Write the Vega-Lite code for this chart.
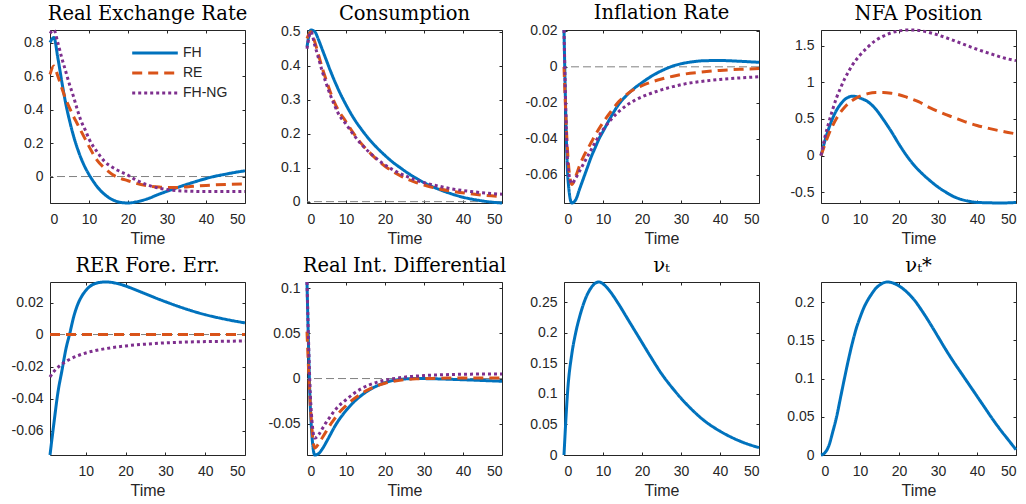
{
  "$schema": "https://vega.github.io/schema/vega-lite/v6.json",
  "background": "white",
  "padding": {"left": 10, "top": 2, "right": 5, "bottom": 5},
  "data": {"values": [
    {"p":"Real Exchange Rate","s":"zero","t":0,"v":0},
    {"p":"Consumption","s":"zero","t":0,"v":0},
    {"p":"Inflation Rate","s":"zero","t":0,"v":0},
    {"p":"RER Fore. Err.","s":"zero","t":1,"v":0},
    {"p":"Real Int. Differential","s":"zero","t":0,"v":0},

    {"p":"Real Exchange Rate","s":"FH","t":0,"v":0.80},
    {"p":"Real Exchange Rate","s":"FH","t":1,"v":0.83},
    {"p":"Real Exchange Rate","s":"FH","t":2,"v":0.71},
    {"p":"Real Exchange Rate","s":"FH","t":3,"v":0.57},
    {"p":"Real Exchange Rate","s":"FH","t":4,"v":0.44},
    {"p":"Real Exchange Rate","s":"FH","t":5,"v":0.335},
    {"p":"Real Exchange Rate","s":"FH","t":6,"v":0.245},
    {"p":"Real Exchange Rate","s":"FH","t":7,"v":0.17},
    {"p":"Real Exchange Rate","s":"FH","t":8,"v":0.107},
    {"p":"Real Exchange Rate","s":"FH","t":9,"v":0.055},
    {"p":"Real Exchange Rate","s":"FH","t":10,"v":0.012},
    {"p":"Real Exchange Rate","s":"FH","t":11,"v":-0.025},
    {"p":"Real Exchange Rate","s":"FH","t":12,"v":-0.058},
    {"p":"Real Exchange Rate","s":"FH","t":14,"v":-0.107},
    {"p":"Real Exchange Rate","s":"FH","t":16,"v":-0.138},
    {"p":"Real Exchange Rate","s":"FH","t":18,"v":-0.154},
    {"p":"Real Exchange Rate","s":"FH","t":20,"v":-0.158},
    {"p":"Real Exchange Rate","s":"FH","t":22,"v":-0.152},
    {"p":"Real Exchange Rate","s":"FH","t":25,"v":-0.133},
    {"p":"Real Exchange Rate","s":"FH","t":28,"v":-0.105},
    {"p":"Real Exchange Rate","s":"FH","t":30,"v":-0.088},
    {"p":"Real Exchange Rate","s":"FH","t":33,"v":-0.063},
    {"p":"Real Exchange Rate","s":"FH","t":36,"v":-0.04},
    {"p":"Real Exchange Rate","s":"FH","t":40,"v":-0.012},
    {"p":"Real Exchange Rate","s":"FH","t":42,"v":0.0},
    {"p":"Real Exchange Rate","s":"FH","t":45,"v":0.014},
    {"p":"Real Exchange Rate","s":"FH","t":48,"v":0.027},
    {"p":"Real Exchange Rate","s":"FH","t":50,"v":0.034},

    {"p":"Real Exchange Rate","s":"RE","t":0,"v":0.61},
    {"p":"Real Exchange Rate","s":"RE","t":1,"v":0.66},
    {"p":"Real Exchange Rate","s":"RE","t":2,"v":0.60},
    {"p":"Real Exchange Rate","s":"RE","t":3,"v":0.53},
    {"p":"Real Exchange Rate","s":"RE","t":4,"v":0.465},
    {"p":"Real Exchange Rate","s":"RE","t":5,"v":0.41},
    {"p":"Real Exchange Rate","s":"RE","t":6,"v":0.36},
    {"p":"Real Exchange Rate","s":"RE","t":7,"v":0.315},
    {"p":"Real Exchange Rate","s":"RE","t":8,"v":0.27},
    {"p":"Real Exchange Rate","s":"RE","t":9,"v":0.225},
    {"p":"Real Exchange Rate","s":"RE","t":10,"v":0.18},
    {"p":"Real Exchange Rate","s":"RE","t":12,"v":0.10},
    {"p":"Real Exchange Rate","s":"RE","t":14,"v":0.05},
    {"p":"Real Exchange Rate","s":"RE","t":16,"v":0.012},
    {"p":"Real Exchange Rate","s":"RE","t":18,"v":-0.01},
    {"p":"Real Exchange Rate","s":"RE","t":20,"v":-0.025},
    {"p":"Real Exchange Rate","s":"RE","t":22,"v":-0.04},
    {"p":"Real Exchange Rate","s":"RE","t":25,"v":-0.055},
    {"p":"Real Exchange Rate","s":"RE","t":28,"v":-0.063},
    {"p":"Real Exchange Rate","s":"RE","t":30,"v":-0.066},
    {"p":"Real Exchange Rate","s":"RE","t":33,"v":-0.065},
    {"p":"Real Exchange Rate","s":"RE","t":36,"v":-0.06},
    {"p":"Real Exchange Rate","s":"RE","t":40,"v":-0.053},
    {"p":"Real Exchange Rate","s":"RE","t":45,"v":-0.047},
    {"p":"Real Exchange Rate","s":"RE","t":50,"v":-0.044},

    {"p":"Real Exchange Rate","s":"FH-NG","t":0,"v":0.855},
    {"p":"Real Exchange Rate","s":"FH-NG","t":1,"v":0.875},
    {"p":"Real Exchange Rate","s":"FH-NG","t":2,"v":0.80},
    {"p":"Real Exchange Rate","s":"FH-NG","t":3,"v":0.71},
    {"p":"Real Exchange Rate","s":"FH-NG","t":4,"v":0.63},
    {"p":"Real Exchange Rate","s":"FH-NG","t":5,"v":0.55},
    {"p":"Real Exchange Rate","s":"FH-NG","t":6,"v":0.48},
    {"p":"Real Exchange Rate","s":"FH-NG","t":7,"v":0.40},
    {"p":"Real Exchange Rate","s":"FH-NG","t":8,"v":0.33},
    {"p":"Real Exchange Rate","s":"FH-NG","t":9,"v":0.28},
    {"p":"Real Exchange Rate","s":"FH-NG","t":10,"v":0.225},
    {"p":"Real Exchange Rate","s":"FH-NG","t":12,"v":0.15},
    {"p":"Real Exchange Rate","s":"FH-NG","t":14,"v":0.09},
    {"p":"Real Exchange Rate","s":"FH-NG","t":16,"v":0.055},
    {"p":"Real Exchange Rate","s":"FH-NG","t":18,"v":0.03},
    {"p":"Real Exchange Rate","s":"FH-NG","t":20,"v":0.008},
    {"p":"Real Exchange Rate","s":"FH-NG","t":22,"v":-0.02},
    {"p":"Real Exchange Rate","s":"FH-NG","t":25,"v":-0.05},
    {"p":"Real Exchange Rate","s":"FH-NG","t":28,"v":-0.07},
    {"p":"Real Exchange Rate","s":"FH-NG","t":30,"v":-0.078},
    {"p":"Real Exchange Rate","s":"FH-NG","t":33,"v":-0.085},
    {"p":"Real Exchange Rate","s":"FH-NG","t":36,"v":-0.088},
    {"p":"Real Exchange Rate","s":"FH-NG","t":40,"v":-0.09},
    {"p":"Real Exchange Rate","s":"FH-NG","t":45,"v":-0.09},
    {"p":"Real Exchange Rate","s":"FH-NG","t":50,"v":-0.09},

    {"p":"Consumption","s":"FH","t":0,"v":0.455},
    {"p":"Consumption","s":"FH","t":1,"v":0.505},
    {"p":"Consumption","s":"FH","t":2,"v":0.50},
    {"p":"Consumption","s":"FH","t":3,"v":0.475},
    {"p":"Consumption","s":"FH","t":4,"v":0.445},
    {"p":"Consumption","s":"FH","t":5,"v":0.415},
    {"p":"Consumption","s":"FH","t":6,"v":0.385},
    {"p":"Consumption","s":"FH","t":7,"v":0.357},
    {"p":"Consumption","s":"FH","t":8,"v":0.331},
    {"p":"Consumption","s":"FH","t":10,"v":0.285},
    {"p":"Consumption","s":"FH","t":12,"v":0.245},
    {"p":"Consumption","s":"FH","t":14,"v":0.212},
    {"p":"Consumption","s":"FH","t":16,"v":0.183},
    {"p":"Consumption","s":"FH","t":18,"v":0.158},
    {"p":"Consumption","s":"FH","t":20,"v":0.136},
    {"p":"Consumption","s":"FH","t":22,"v":0.116},
    {"p":"Consumption","s":"FH","t":24,"v":0.099},
    {"p":"Consumption","s":"FH","t":26,"v":0.083},
    {"p":"Consumption","s":"FH","t":28,"v":0.069},
    {"p":"Consumption","s":"FH","t":30,"v":0.056},
    {"p":"Consumption","s":"FH","t":33,"v":0.040},
    {"p":"Consumption","s":"FH","t":36,"v":0.027},
    {"p":"Consumption","s":"FH","t":40,"v":0.013},
    {"p":"Consumption","s":"FH","t":44,"v":0.004},
    {"p":"Consumption","s":"FH","t":47,"v":-0.001},
    {"p":"Consumption","s":"FH","t":50,"v":-0.004},

    {"p":"Consumption","s":"RE","t":0,"v":0.48},
    {"p":"Consumption","s":"RE","t":1,"v":0.50},
    {"p":"Consumption","s":"RE","t":2,"v":0.47},
    {"p":"Consumption","s":"RE","t":3,"v":0.43},
    {"p":"Consumption","s":"RE","t":4,"v":0.39},
    {"p":"Consumption","s":"RE","t":5,"v":0.355},
    {"p":"Consumption","s":"RE","t":6,"v":0.322},
    {"p":"Consumption","s":"RE","t":7,"v":0.293},
    {"p":"Consumption","s":"RE","t":8,"v":0.27},
    {"p":"Consumption","s":"RE","t":10,"v":0.235},
    {"p":"Consumption","s":"RE","t":12,"v":0.20},
    {"p":"Consumption","s":"RE","t":14,"v":0.17},
    {"p":"Consumption","s":"RE","t":16,"v":0.145},
    {"p":"Consumption","s":"RE","t":18,"v":0.123},
    {"p":"Consumption","s":"RE","t":20,"v":0.104},
    {"p":"Consumption","s":"RE","t":22,"v":0.089},
    {"p":"Consumption","s":"RE","t":24,"v":0.076},
    {"p":"Consumption","s":"RE","t":26,"v":0.065},
    {"p":"Consumption","s":"RE","t":28,"v":0.056},
    {"p":"Consumption","s":"RE","t":30,"v":0.049},
    {"p":"Consumption","s":"RE","t":34,"v":0.037},
    {"p":"Consumption","s":"RE","t":38,"v":0.029},
    {"p":"Consumption","s":"RE","t":42,"v":0.023},
    {"p":"Consumption","s":"RE","t":46,"v":0.018},
    {"p":"Consumption","s":"RE","t":50,"v":0.015},

    {"p":"Consumption","s":"FH-NG","t":0,"v":0.45},
    {"p":"Consumption","s":"FH-NG","t":1,"v":0.50},
    {"p":"Consumption","s":"FH-NG","t":2,"v":0.46},
    {"p":"Consumption","s":"FH-NG","t":3,"v":0.42},
    {"p":"Consumption","s":"FH-NG","t":4,"v":0.38},
    {"p":"Consumption","s":"FH-NG","t":5,"v":0.345},
    {"p":"Consumption","s":"FH-NG","t":6,"v":0.313},
    {"p":"Consumption","s":"FH-NG","t":7,"v":0.285},
    {"p":"Consumption","s":"FH-NG","t":8,"v":0.26},
    {"p":"Consumption","s":"FH-NG","t":10,"v":0.228},
    {"p":"Consumption","s":"FH-NG","t":12,"v":0.196},
    {"p":"Consumption","s":"FH-NG","t":14,"v":0.168},
    {"p":"Consumption","s":"FH-NG","t":16,"v":0.145},
    {"p":"Consumption","s":"FH-NG","t":18,"v":0.125},
    {"p":"Consumption","s":"FH-NG","t":20,"v":0.108},
    {"p":"Consumption","s":"FH-NG","t":22,"v":0.094},
    {"p":"Consumption","s":"FH-NG","t":24,"v":0.082},
    {"p":"Consumption","s":"FH-NG","t":26,"v":0.072},
    {"p":"Consumption","s":"FH-NG","t":28,"v":0.063},
    {"p":"Consumption","s":"FH-NG","t":30,"v":0.056},
    {"p":"Consumption","s":"FH-NG","t":34,"v":0.045},
    {"p":"Consumption","s":"FH-NG","t":38,"v":0.036},
    {"p":"Consumption","s":"FH-NG","t":42,"v":0.030},
    {"p":"Consumption","s":"FH-NG","t":46,"v":0.025},
    {"p":"Consumption","s":"FH-NG","t":50,"v":0.022},

    {"p":"Inflation Rate","s":"FH","t":0,"v":0.0205},
    {"p":"Inflation Rate","s":"FH","t":1,"v":-0.062},
    {"p":"Inflation Rate","s":"FH","t":2,"v":-0.0758},
    {"p":"Inflation Rate","s":"FH","t":3,"v":-0.074},
    {"p":"Inflation Rate","s":"FH","t":4,"v":-0.068},
    {"p":"Inflation Rate","s":"FH","t":5,"v":-0.062},
    {"p":"Inflation Rate","s":"FH","t":6,"v":-0.056},
    {"p":"Inflation Rate","s":"FH","t":7,"v":-0.050},
    {"p":"Inflation Rate","s":"FH","t":8,"v":-0.045},
    {"p":"Inflation Rate","s":"FH","t":9,"v":-0.040},
    {"p":"Inflation Rate","s":"FH","t":10,"v":-0.036},
    {"p":"Inflation Rate","s":"FH","t":12,"v":-0.028},
    {"p":"Inflation Rate","s":"FH","t":14,"v":-0.021},
    {"p":"Inflation Rate","s":"FH","t":16,"v":-0.016},
    {"p":"Inflation Rate","s":"FH","t":18,"v":-0.012},
    {"p":"Inflation Rate","s":"FH","t":20,"v":-0.0088},
    {"p":"Inflation Rate","s":"FH","t":22,"v":-0.0058},
    {"p":"Inflation Rate","s":"FH","t":24,"v":-0.0033},
    {"p":"Inflation Rate","s":"FH","t":26,"v":-0.0012},
    {"p":"Inflation Rate","s":"FH","t":28,"v":0.0005},
    {"p":"Inflation Rate","s":"FH","t":30,"v":0.0017},
    {"p":"Inflation Rate","s":"FH","t":33,"v":0.0028},
    {"p":"Inflation Rate","s":"FH","t":36,"v":0.0034},
    {"p":"Inflation Rate","s":"FH","t":40,"v":0.0035},
    {"p":"Inflation Rate","s":"FH","t":45,"v":0.0031},
    {"p":"Inflation Rate","s":"FH","t":50,"v":0.0025},

    {"p":"Inflation Rate","s":"RE","t":0,"v":0.0},
    {"p":"Inflation Rate","s":"RE","t":1,"v":-0.05},
    {"p":"Inflation Rate","s":"RE","t":2,"v":-0.0655},
    {"p":"Inflation Rate","s":"RE","t":3,"v":-0.061},
    {"p":"Inflation Rate","s":"RE","t":4,"v":-0.055},
    {"p":"Inflation Rate","s":"RE","t":5,"v":-0.050},
    {"p":"Inflation Rate","s":"RE","t":6,"v":-0.046},
    {"p":"Inflation Rate","s":"RE","t":7,"v":-0.042},
    {"p":"Inflation Rate","s":"RE","t":8,"v":-0.038},
    {"p":"Inflation Rate","s":"RE","t":10,"v":-0.031},
    {"p":"Inflation Rate","s":"RE","t":12,"v":-0.025},
    {"p":"Inflation Rate","s":"RE","t":14,"v":-0.0195},
    {"p":"Inflation Rate","s":"RE","t":16,"v":-0.0155},
    {"p":"Inflation Rate","s":"RE","t":18,"v":-0.0125},
    {"p":"Inflation Rate","s":"RE","t":20,"v":-0.0105},
    {"p":"Inflation Rate","s":"RE","t":22,"v":-0.0088},
    {"p":"Inflation Rate","s":"RE","t":25,"v":-0.0068},
    {"p":"Inflation Rate","s":"RE","t":28,"v":-0.0052},
    {"p":"Inflation Rate","s":"RE","t":31,"v":-0.004},
    {"p":"Inflation Rate","s":"RE","t":35,"v":-0.003},
    {"p":"Inflation Rate","s":"RE","t":40,"v":-0.002},
    {"p":"Inflation Rate","s":"RE","t":45,"v":-0.0014},
    {"p":"Inflation Rate","s":"RE","t":50,"v":-0.001},

    {"p":"Inflation Rate","s":"FH-NG","t":0,"v":0.0205},
    {"p":"Inflation Rate","s":"FH-NG","t":1,"v":-0.055},
    {"p":"Inflation Rate","s":"FH-NG","t":2,"v":-0.065},
    {"p":"Inflation Rate","s":"FH-NG","t":3,"v":-0.062},
    {"p":"Inflation Rate","s":"FH-NG","t":4,"v":-0.058},
    {"p":"Inflation Rate","s":"FH-NG","t":5,"v":-0.054},
    {"p":"Inflation Rate","s":"FH-NG","t":6,"v":-0.050},
    {"p":"Inflation Rate","s":"FH-NG","t":7,"v":-0.046},
    {"p":"Inflation Rate","s":"FH-NG","t":8,"v":-0.042},
    {"p":"Inflation Rate","s":"FH-NG","t":10,"v":-0.035},
    {"p":"Inflation Rate","s":"FH-NG","t":12,"v":-0.0295},
    {"p":"Inflation Rate","s":"FH-NG","t":14,"v":-0.025},
    {"p":"Inflation Rate","s":"FH-NG","t":16,"v":-0.0215},
    {"p":"Inflation Rate","s":"FH-NG","t":18,"v":-0.0188},
    {"p":"Inflation Rate","s":"FH-NG","t":20,"v":-0.0167},
    {"p":"Inflation Rate","s":"FH-NG","t":22,"v":-0.015},
    {"p":"Inflation Rate","s":"FH-NG","t":25,"v":-0.0128},
    {"p":"Inflation Rate","s":"FH-NG","t":28,"v":-0.011},
    {"p":"Inflation Rate","s":"FH-NG","t":31,"v":-0.0095},
    {"p":"Inflation Rate","s":"FH-NG","t":35,"v":-0.0082},
    {"p":"Inflation Rate","s":"FH-NG","t":40,"v":-0.007},
    {"p":"Inflation Rate","s":"FH-NG","t":45,"v":-0.0062},
    {"p":"Inflation Rate","s":"FH-NG","t":50,"v":-0.0055},

    {"p":"NFA Position","s":"FH","t":0,"v":0},
    {"p":"NFA Position","s":"FH","t":1,"v":0.2},
    {"p":"NFA Position","s":"FH","t":2,"v":0.37},
    {"p":"NFA Position","s":"FH","t":3,"v":0.51},
    {"p":"NFA Position","s":"FH","t":4,"v":0.62},
    {"p":"NFA Position","s":"FH","t":5,"v":0.70},
    {"p":"NFA Position","s":"FH","t":6,"v":0.76},
    {"p":"NFA Position","s":"FH","t":7,"v":0.795},
    {"p":"NFA Position","s":"FH","t":8,"v":0.81},
    {"p":"NFA Position","s":"FH","t":9,"v":0.805},
    {"p":"NFA Position","s":"FH","t":10,"v":0.785},
    {"p":"NFA Position","s":"FH","t":12,"v":0.735},
    {"p":"NFA Position","s":"FH","t":14,"v":0.635},
    {"p":"NFA Position","s":"FH","t":16,"v":0.49},
    {"p":"NFA Position","s":"FH","t":18,"v":0.33},
    {"p":"NFA Position","s":"FH","t":20,"v":0.155},
    {"p":"NFA Position","s":"FH","t":22,"v":-0.005},
    {"p":"NFA Position","s":"FH","t":24,"v":-0.14},
    {"p":"NFA Position","s":"FH","t":26,"v":-0.25},
    {"p":"NFA Position","s":"FH","t":28,"v":-0.345},
    {"p":"NFA Position","s":"FH","t":30,"v":-0.43},
    {"p":"NFA Position","s":"FH","t":32,"v":-0.50},
    {"p":"NFA Position","s":"FH","t":34,"v":-0.56},
    {"p":"NFA Position","s":"FH","t":36,"v":-0.60},
    {"p":"NFA Position","s":"FH","t":38,"v":-0.625},
    {"p":"NFA Position","s":"FH","t":40,"v":-0.64},
    {"p":"NFA Position","s":"FH","t":43,"v":-0.645},
    {"p":"NFA Position","s":"FH","t":46,"v":-0.648},
    {"p":"NFA Position","s":"FH","t":48,"v":-0.646},
    {"p":"NFA Position","s":"FH","t":50,"v":-0.64},

    {"p":"NFA Position","s":"RE","t":0,"v":0},
    {"p":"NFA Position","s":"RE","t":1,"v":0.15},
    {"p":"NFA Position","s":"RE","t":2,"v":0.29},
    {"p":"NFA Position","s":"RE","t":3,"v":0.41},
    {"p":"NFA Position","s":"RE","t":4,"v":0.51},
    {"p":"NFA Position","s":"RE","t":5,"v":0.59},
    {"p":"NFA Position","s":"RE","t":6,"v":0.655},
    {"p":"NFA Position","s":"RE","t":7,"v":0.71},
    {"p":"NFA Position","s":"RE","t":8,"v":0.75},
    {"p":"NFA Position","s":"RE","t":10,"v":0.81},
    {"p":"NFA Position","s":"RE","t":12,"v":0.845},
    {"p":"NFA Position","s":"RE","t":14,"v":0.86},
    {"p":"NFA Position","s":"RE","t":16,"v":0.86},
    {"p":"NFA Position","s":"RE","t":18,"v":0.85},
    {"p":"NFA Position","s":"RE","t":20,"v":0.83},
    {"p":"NFA Position","s":"RE","t":22,"v":0.795},
    {"p":"NFA Position","s":"RE","t":25,"v":0.735},
    {"p":"NFA Position","s":"RE","t":28,"v":0.65},
    {"p":"NFA Position","s":"RE","t":31,"v":0.58},
    {"p":"NFA Position","s":"RE","t":34,"v":0.52},
    {"p":"NFA Position","s":"RE","t":37,"v":0.46},
    {"p":"NFA Position","s":"RE","t":40,"v":0.41},
    {"p":"NFA Position","s":"RE","t":43,"v":0.37},
    {"p":"NFA Position","s":"RE","t":46,"v":0.335},
    {"p":"NFA Position","s":"RE","t":48,"v":0.315},
    {"p":"NFA Position","s":"RE","t":50,"v":0.295},

    {"p":"NFA Position","s":"FH-NG","t":0,"v":0},
    {"p":"NFA Position","s":"FH-NG","t":1,"v":0.25},
    {"p":"NFA Position","s":"FH-NG","t":2,"v":0.45},
    {"p":"NFA Position","s":"FH-NG","t":3,"v":0.63},
    {"p":"NFA Position","s":"FH-NG","t":4,"v":0.79},
    {"p":"NFA Position","s":"FH-NG","t":5,"v":0.92},
    {"p":"NFA Position","s":"FH-NG","t":6,"v":1.04},
    {"p":"NFA Position","s":"FH-NG","t":7,"v":1.14},
    {"p":"NFA Position","s":"FH-NG","t":8,"v":1.23},
    {"p":"NFA Position","s":"FH-NG","t":10,"v":1.37},
    {"p":"NFA Position","s":"FH-NG","t":12,"v":1.48},
    {"p":"NFA Position","s":"FH-NG","t":14,"v":1.57},
    {"p":"NFA Position","s":"FH-NG","t":16,"v":1.63},
    {"p":"NFA Position","s":"FH-NG","t":18,"v":1.675},
    {"p":"NFA Position","s":"FH-NG","t":20,"v":1.70},
    {"p":"NFA Position","s":"FH-NG","t":22,"v":1.713},
    {"p":"NFA Position","s":"FH-NG","t":24,"v":1.712},
    {"p":"NFA Position","s":"FH-NG","t":26,"v":1.70},
    {"p":"NFA Position","s":"FH-NG","t":28,"v":1.675},
    {"p":"NFA Position","s":"FH-NG","t":30,"v":1.645},
    {"p":"NFA Position","s":"FH-NG","t":33,"v":1.59},
    {"p":"NFA Position","s":"FH-NG","t":36,"v":1.53},
    {"p":"NFA Position","s":"FH-NG","t":40,"v":1.45},
    {"p":"NFA Position","s":"FH-NG","t":44,"v":1.38},
    {"p":"NFA Position","s":"FH-NG","t":47,"v":1.33},
    {"p":"NFA Position","s":"FH-NG","t":50,"v":1.295},

    {"p":"RER Fore. Err.","s":"FH","t":1,"v":-0.0752},
    {"p":"RER Fore. Err.","s":"FH","t":2,"v":-0.055},
    {"p":"RER Fore. Err.","s":"FH","t":3,"v":-0.036},
    {"p":"RER Fore. Err.","s":"FH","t":4,"v":-0.0225},
    {"p":"RER Fore. Err.","s":"FH","t":5,"v":-0.009},
    {"p":"RER Fore. Err.","s":"FH","t":6,"v":0.001},
    {"p":"RER Fore. Err.","s":"FH","t":7,"v":0.0115},
    {"p":"RER Fore. Err.","s":"FH","t":8,"v":0.019},
    {"p":"RER Fore. Err.","s":"FH","t":9,"v":0.024},
    {"p":"RER Fore. Err.","s":"FH","t":10,"v":0.0275},
    {"p":"RER Fore. Err.","s":"FH","t":11,"v":0.030},
    {"p":"RER Fore. Err.","s":"FH","t":12,"v":0.0315},
    {"p":"RER Fore. Err.","s":"FH","t":13,"v":0.0323},
    {"p":"RER Fore. Err.","s":"FH","t":14,"v":0.0327},
    {"p":"RER Fore. Err.","s":"FH","t":15,"v":0.0328},
    {"p":"RER Fore. Err.","s":"FH","t":16,"v":0.0327},
    {"p":"RER Fore. Err.","s":"FH","t":18,"v":0.0318},
    {"p":"RER Fore. Err.","s":"FH","t":20,"v":0.0303},
    {"p":"RER Fore. Err.","s":"FH","t":22,"v":0.0284},
    {"p":"RER Fore. Err.","s":"FH","t":24,"v":0.0264},
    {"p":"RER Fore. Err.","s":"FH","t":26,"v":0.0244},
    {"p":"RER Fore. Err.","s":"FH","t":28,"v":0.0224},
    {"p":"RER Fore. Err.","s":"FH","t":30,"v":0.0205},
    {"p":"RER Fore. Err.","s":"FH","t":33,"v":0.0178},
    {"p":"RER Fore. Err.","s":"FH","t":36,"v":0.0153},
    {"p":"RER Fore. Err.","s":"FH","t":40,"v":0.0124},
    {"p":"RER Fore. Err.","s":"FH","t":44,"v":0.0101},
    {"p":"RER Fore. Err.","s":"FH","t":47,"v":0.0086},
    {"p":"RER Fore. Err.","s":"FH","t":50,"v":0.0073},

    {"p":"RER Fore. Err.","s":"RE","t":1,"v":0},
    {"p":"RER Fore. Err.","s":"RE","t":10,"v":0},
    {"p":"RER Fore. Err.","s":"RE","t":20,"v":0},
    {"p":"RER Fore. Err.","s":"RE","t":30,"v":0},
    {"p":"RER Fore. Err.","s":"RE","t":40,"v":0},
    {"p":"RER Fore. Err.","s":"RE","t":50,"v":0},

    {"p":"RER Fore. Err.","s":"FH-NG","t":1,"v":-0.0265},
    {"p":"RER Fore. Err.","s":"FH-NG","t":2,"v":-0.023},
    {"p":"RER Fore. Err.","s":"FH-NG","t":3,"v":-0.0205},
    {"p":"RER Fore. Err.","s":"FH-NG","t":4,"v":-0.0185},
    {"p":"RER Fore. Err.","s":"FH-NG","t":5,"v":-0.0168},
    {"p":"RER Fore. Err.","s":"FH-NG","t":6,"v":-0.0154},
    {"p":"RER Fore. Err.","s":"FH-NG","t":8,"v":-0.0132},
    {"p":"RER Fore. Err.","s":"FH-NG","t":10,"v":-0.0115},
    {"p":"RER Fore. Err.","s":"FH-NG","t":12,"v":-0.0102},
    {"p":"RER Fore. Err.","s":"FH-NG","t":15,"v":-0.0088},
    {"p":"RER Fore. Err.","s":"FH-NG","t":20,"v":-0.0071},
    {"p":"RER Fore. Err.","s":"FH-NG","t":25,"v":-0.006},
    {"p":"RER Fore. Err.","s":"FH-NG","t":30,"v":-0.0052},
    {"p":"RER Fore. Err.","s":"FH-NG","t":35,"v":-0.0047},
    {"p":"RER Fore. Err.","s":"FH-NG","t":40,"v":-0.0044},
    {"p":"RER Fore. Err.","s":"FH-NG","t":45,"v":-0.0042},
    {"p":"RER Fore. Err.","s":"FH-NG","t":50,"v":-0.004},

    {"p":"Real Int. Differential","s":"FH","t":0,"v":0.107},
    {"p":"Real Int. Differential","s":"FH","t":1,"v":-0.045},
    {"p":"Real Int. Differential","s":"FH","t":2,"v":-0.0847},
    {"p":"Real Int. Differential","s":"FH","t":3,"v":-0.083},
    {"p":"Real Int. Differential","s":"FH","t":4,"v":-0.0775},
    {"p":"Real Int. Differential","s":"FH","t":5,"v":-0.070},
    {"p":"Real Int. Differential","s":"FH","t":6,"v":-0.062},
    {"p":"Real Int. Differential","s":"FH","t":7,"v":-0.054},
    {"p":"Real Int. Differential","s":"FH","t":8,"v":-0.047},
    {"p":"Real Int. Differential","s":"FH","t":9,"v":-0.041},
    {"p":"Real Int. Differential","s":"FH","t":10,"v":-0.0355},
    {"p":"Real Int. Differential","s":"FH","t":12,"v":-0.026},
    {"p":"Real Int. Differential","s":"FH","t":14,"v":-0.0185},
    {"p":"Real Int. Differential","s":"FH","t":16,"v":-0.0125},
    {"p":"Real Int. Differential","s":"FH","t":18,"v":-0.008},
    {"p":"Real Int. Differential","s":"FH","t":20,"v":-0.0045},
    {"p":"Real Int. Differential","s":"FH","t":22,"v":-0.0022},
    {"p":"Real Int. Differential","s":"FH","t":24,"v":-0.0009},
    {"p":"Real Int. Differential","s":"FH","t":26,"v":-0.0002},
    {"p":"Real Int. Differential","s":"FH","t":28,"v":0.0},
    {"p":"Real Int. Differential","s":"FH","t":31,"v":-0.0001},
    {"p":"Real Int. Differential","s":"FH","t":34,"v":-0.0004},
    {"p":"Real Int. Differential","s":"FH","t":38,"v":-0.001},
    {"p":"Real Int. Differential","s":"FH","t":42,"v":-0.0016},
    {"p":"Real Int. Differential","s":"FH","t":46,"v":-0.0023},
    {"p":"Real Int. Differential","s":"FH","t":50,"v":-0.003},

    {"p":"Real Int. Differential","s":"RE","t":0,"v":0.052},
    {"p":"Real Int. Differential","s":"RE","t":1,"v":-0.04},
    {"p":"Real Int. Differential","s":"RE","t":2,"v":-0.077},
    {"p":"Real Int. Differential","s":"RE","t":3,"v":-0.072},
    {"p":"Real Int. Differential","s":"RE","t":4,"v":-0.065},
    {"p":"Real Int. Differential","s":"RE","t":5,"v":-0.058},
    {"p":"Real Int. Differential","s":"RE","t":6,"v":-0.051},
    {"p":"Real Int. Differential","s":"RE","t":7,"v":-0.045},
    {"p":"Real Int. Differential","s":"RE","t":8,"v":-0.039},
    {"p":"Real Int. Differential","s":"RE","t":10,"v":-0.030},
    {"p":"Real Int. Differential","s":"RE","t":12,"v":-0.0225},
    {"p":"Real Int. Differential","s":"RE","t":14,"v":-0.0165},
    {"p":"Real Int. Differential","s":"RE","t":16,"v":-0.0118},
    {"p":"Real Int. Differential","s":"RE","t":18,"v":-0.008},
    {"p":"Real Int. Differential","s":"RE","t":20,"v":-0.0052},
    {"p":"Real Int. Differential","s":"RE","t":22,"v":-0.0032},
    {"p":"Real Int. Differential","s":"RE","t":25,"v":-0.0013},
    {"p":"Real Int. Differential","s":"RE","t":28,"v":-0.0003},
    {"p":"Real Int. Differential","s":"RE","t":32,"v":0.0002},
    {"p":"Real Int. Differential","s":"RE","t":36,"v":0.0005},
    {"p":"Real Int. Differential","s":"RE","t":40,"v":0.0006},
    {"p":"Real Int. Differential","s":"RE","t":45,"v":0.0007},
    {"p":"Real Int. Differential","s":"RE","t":50,"v":0.0007},

    {"p":"Real Int. Differential","s":"FH-NG","t":0,"v":0.107},
    {"p":"Real Int. Differential","s":"FH-NG","t":1,"v":-0.03},
    {"p":"Real Int. Differential","s":"FH-NG","t":2,"v":-0.066},
    {"p":"Real Int. Differential","s":"FH-NG","t":3,"v":-0.062},
    {"p":"Real Int. Differential","s":"FH-NG","t":4,"v":-0.055},
    {"p":"Real Int. Differential","s":"FH-NG","t":5,"v":-0.048},
    {"p":"Real Int. Differential","s":"FH-NG","t":6,"v":-0.042},
    {"p":"Real Int. Differential","s":"FH-NG","t":7,"v":-0.036},
    {"p":"Real Int. Differential","s":"FH-NG","t":8,"v":-0.031},
    {"p":"Real Int. Differential","s":"FH-NG","t":10,"v":-0.0235},
    {"p":"Real Int. Differential","s":"FH-NG","t":12,"v":-0.0165},
    {"p":"Real Int. Differential","s":"FH-NG","t":14,"v":-0.011},
    {"p":"Real Int. Differential","s":"FH-NG","t":16,"v":-0.007},
    {"p":"Real Int. Differential","s":"FH-NG","t":18,"v":-0.004},
    {"p":"Real Int. Differential","s":"FH-NG","t":20,"v":-0.0018},
    {"p":"Real Int. Differential","s":"FH-NG","t":22,"v":-0.0002},
    {"p":"Real Int. Differential","s":"FH-NG","t":24,"v":0.0011},
    {"p":"Real Int. Differential","s":"FH-NG","t":27,"v":0.0024},
    {"p":"Real Int. Differential","s":"FH-NG","t":30,"v":0.0033},
    {"p":"Real Int. Differential","s":"FH-NG","t":34,"v":0.0041},
    {"p":"Real Int. Differential","s":"FH-NG","t":38,"v":0.0046},
    {"p":"Real Int. Differential","s":"FH-NG","t":42,"v":0.0049},
    {"p":"Real Int. Differential","s":"FH-NG","t":46,"v":0.005},
    {"p":"Real Int. Differential","s":"FH-NG","t":50,"v":0.005},

    {"p":"νₜ","s":"FH","t":0,"v":0},
    {"p":"νₜ","s":"FH","t":1,"v":0.11},
    {"p":"νₜ","s":"FH","t":2,"v":0.165},
    {"p":"νₜ","s":"FH","t":3,"v":0.2},
    {"p":"νₜ","s":"FH","t":4,"v":0.226},
    {"p":"νₜ","s":"FH","t":5,"v":0.247},
    {"p":"νₜ","s":"FH","t":6,"v":0.263},
    {"p":"νₜ","s":"FH","t":7,"v":0.274},
    {"p":"νₜ","s":"FH","t":8,"v":0.281},
    {"p":"νₜ","s":"FH","t":9,"v":0.283},
    {"p":"νₜ","s":"FH","t":10,"v":0.28},
    {"p":"νₜ","s":"FH","t":11,"v":0.274},
    {"p":"νₜ","s":"FH","t":12,"v":0.266},
    {"p":"νₜ","s":"FH","t":14,"v":0.247},
    {"p":"νₜ","s":"FH","t":16,"v":0.226},
    {"p":"νₜ","s":"FH","t":18,"v":0.205},
    {"p":"νₜ","s":"FH","t":20,"v":0.184},
    {"p":"νₜ","s":"FH","t":22,"v":0.163},
    {"p":"νₜ","s":"FH","t":25,"v":0.133},
    {"p":"νₜ","s":"FH","t":28,"v":0.108},
    {"p":"νₜ","s":"FH","t":30,"v":0.093},
    {"p":"νₜ","s":"FH","t":33,"v":0.073},
    {"p":"νₜ","s":"FH","t":36,"v":0.056},
    {"p":"νₜ","s":"FH","t":40,"v":0.039},
    {"p":"νₜ","s":"FH","t":45,"v":0.023},
    {"p":"νₜ","s":"FH","t":50,"v":0.012},

    {"p":"νₜ*","s":"FH","t":0,"v":0},
    {"p":"νₜ*","s":"FH","t":1,"v":0.003},
    {"p":"νₜ*","s":"FH","t":2,"v":0.012},
    {"p":"νₜ*","s":"FH","t":3,"v":0.03},
    {"p":"νₜ*","s":"FH","t":4,"v":0.05},
    {"p":"νₜ*","s":"FH","t":5,"v":0.075},
    {"p":"νₜ*","s":"FH","t":6,"v":0.1},
    {"p":"νₜ*","s":"FH","t":7,"v":0.124},
    {"p":"νₜ*","s":"FH","t":8,"v":0.146},
    {"p":"νₜ*","s":"FH","t":9,"v":0.165},
    {"p":"νₜ*","s":"FH","t":10,"v":0.18},
    {"p":"νₜ*","s":"FH","t":11,"v":0.193},
    {"p":"νₜ*","s":"FH","t":12,"v":0.203},
    {"p":"νₜ*","s":"FH","t":13,"v":0.211},
    {"p":"νₜ*","s":"FH","t":14,"v":0.218},
    {"p":"νₜ*","s":"FH","t":15,"v":0.2225},
    {"p":"νₜ*","s":"FH","t":16,"v":0.2255},
    {"p":"νₜ*","s":"FH","t":17,"v":0.2266},
    {"p":"νₜ*","s":"FH","t":18,"v":0.226},
    {"p":"νₜ*","s":"FH","t":19,"v":0.2242},
    {"p":"νₜ*","s":"FH","t":20,"v":0.2215},
    {"p":"νₜ*","s":"FH","t":22,"v":0.2135},
    {"p":"νₜ*","s":"FH","t":24,"v":0.2025},
    {"p":"νₜ*","s":"FH","t":26,"v":0.188},
    {"p":"νₜ*","s":"FH","t":28,"v":0.172},
    {"p":"νₜ*","s":"FH","t":30,"v":0.155},
    {"p":"νₜ*","s":"FH","t":32,"v":0.138},
    {"p":"νₜ*","s":"FH","t":34,"v":0.122},
    {"p":"νₜ*","s":"FH","t":36,"v":0.107},
    {"p":"νₜ*","s":"FH","t":38,"v":0.092},
    {"p":"νₜ*","s":"FH","t":40,"v":0.077},
    {"p":"νₜ*","s":"FH","t":42,"v":0.062},
    {"p":"νₜ*","s":"FH","t":44,"v":0.047},
    {"p":"νₜ*","s":"FH","t":46,"v":0.033},
    {"p":"νₜ*","s":"FH","t":48,"v":0.02},
    {"p":"νₜ*","s":"FH","t":50,"v":0.007}
  ]},
  "facet": {
    "field": "p",
    "type": "nominal",
    "sort": ["Real Exchange Rate", "Consumption", "Inflation Rate", "NFA Position", "RER Fore. Err.", "Real Int. Differential", "νₜ", "νₜ*"],
    "header": {"title": null, "labelFont": "DejaVu Serif", "labelFontSize": 19.5, "labelColor": "black", "labelPadding": -15, "labelBaseline": "alphabetic"}
  },
  "columns": 4,
  "bounds": "flush",
  "spacing": {"column": 62, "row": 79},
  "resolve": {"scale": {"x": "independent", "y": "independent"}},
  "spec": {
    "width": 195,
    "height": 173,
    "resolve": {"axis": {"x": "independent", "y": "independent"}},
    "layer": [
      {
        "transform": [{"filter": "datum.s === 'zero'"}],
        "mark": {"type": "rule", "color": "#808080", "strokeWidth": 1, "strokeDash": [8, 4]},
        "encoding": {"y": {"field": "v", "type": "quantitative", "axis": null}}
      },
      {
        "transform": [{"filter": "datum.s !== 'zero'"}],
        "mark": {"type": "line", "strokeWidth": 3, "interpolate": "monotone"},
        "encoding": {
          "x": {"field": "t", "type": "quantitative", "title": "Time", "scale": {"nice": false, "zero": false}},
          "y": {"field": "v", "type": "quantitative", "title": null, "scale": {"nice": false, "zero": false}},
          "color": {"field": "s", "type": "nominal", "title": null,
            "scale": {"domain": ["FH", "RE", "FH-NG"], "range": ["#0072BD", "#D95319", "#7E2F8E"]},
            "legend": {"orient": "none", "legendX": 92, "legendY": 10}},
          "strokeDash": {"field": "s", "type": "nominal", "title": null,
            "scale": {"domain": ["FH", "RE", "FH-NG"], "range": [[1, 0], [10, 6], [3, 3]]}}
        }
      },
      {
        "transform": [{"filter": "datum.s !== 'zero'"}],
        "mark": {"type": "line", "opacity": 0},
        "encoding": {
          "x": {"field": "t", "type": "quantitative", "axis": {"orient": "top", "labels": false, "title": null}},
          "y": {"field": "v", "type": "quantitative", "axis": {"orient": "right", "labels": false, "title": null}}
        }
      }
    ]
  },
  "config": {
    "font": "Liberation Sans",
    "view": {"stroke": "#262626", "strokeWidth": 1},
    "axis": {
      "domain": false, "grid": false,
      "tickSize": -3, "tickColor": "#262626",
      "labelFont": "Liberation Sans", "labelFontSize": 14, "labelColor": "#262626",
      "labelExpr": "replace(datum.label, '−', '-')",
      "titleFont": "Liberation Sans", "titleFontSize": 16, "titleFontWeight": "normal", "titleColor": "#262626",
      "format": "~r"
    },
    "axisX": {"labelPadding": 12, "titlePadding": 4},
    "axisY": {"labelPadding": 10},
    "legend": {"symbolType": "M-2,0H2", "symbolSize": 520, "symbolStrokeWidth": 3, "labelFontSize": 14, "labelColor": "#262626", "padding": 0, "rowPadding": -2, "labelOffset": 15}
  }
}
